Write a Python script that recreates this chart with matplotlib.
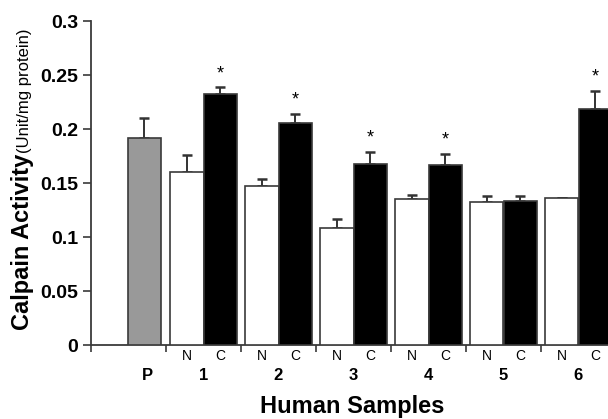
import matplotlib
matplotlib.use("Agg")
import matplotlib.pyplot as plt
from matplotlib.transforms import blended_transform_factory

plt.rcParams['font.family'] = ['Liberation Sans', 'DejaVu Sans']

# ---- data ----
group_labels = ['1', '2', '3', '4', '5', '6']
sub_labels = ['N', 'C']
pool_label = 'P'
pool_value = 0.192
pool_err = 0.0185
n_values = [0.160, 0.147, 0.108, 0.135, 0.132, 0.136]
n_errors = [0.016, 0.007, 0.009, 0.0035, 0.0055, 0.0]
c_values = [0.232, 0.206, 0.168, 0.167, 0.133, 0.2185]
c_errors = [0.0065, 0.008, 0.0108, 0.010, 0.0053, 0.017]
significant = [True, True, True, True, False, True]
y_ticks = [0, 0.05, 0.1, 0.15, 0.2, 0.25, 0.3]
y_tick_labels = ['0', '0.05', '0.1', '0.15', '0.2', '0.25', '0.3']

W, H = 608, 419
fig = plt.figure(figsize=(W / 100, H / 100), dpi=100)
ax = fig.add_axes([91 / W, (H - 345) / H, (W - 91) / W, 324 / H])

edge = '#3a3a3a'
bw = 0.444
off = 0.222
gx = list(range(1, len(group_labels) + 1))
nx = [g - off for g in gx]
cx = [g + off for g in gx]
px = 0.21

ax.bar([px], [pool_value], width=bw, color='#999999', edgecolor=edge, linewidth=1.2, zorder=3)
ax.bar(nx, n_values, width=bw, color='white', edgecolor=edge, linewidth=1.2, zorder=3)
ax.bar(cx, c_values, width=bw, color='black', edgecolor=edge, linewidth=1.2, zorder=3)

ekw = dict(fmt='none', ecolor='#333333', elinewidth=1.4, capsize=3.5, capthick=1.8, zorder=2)
ax.errorbar([px], [pool_value], yerr=[[0], [pool_err]], **ekw)
ax.errorbar(nx, n_values, yerr=[[0] * len(n_errors), n_errors], **ekw)
ax.errorbar(cx, c_values, yerr=[[0] * len(c_errors), c_errors], **ekw)

for x, v, e, s in zip(cx, c_values, c_errors, significant):
    if s:
        ax.annotate('*', xy=(x, v + e), xytext=(0, 10), textcoords='offset points',
                    ha='center', va='center', fontsize=13, color='black')

ax.set_xlim(-0.5, -0.5 + (W - 91) / 75)
ax.set_ylim(0, 0.3)
ax.set_yticks(y_ticks)
ax.set_yticklabels(y_tick_labels, fontsize=14, fontweight='bold')
ax.set_xticks([g - 0.5 for g in [0] + gx])
ax.set_xticklabels([])
ax.tick_params(axis='y', length=6, width=1.2, color=edge, pad=3)
ax.tick_params(axis='x', length=5, width=1.2, color=edge)
for sp in ['top', 'right']:
    ax.spines[sp].set_visible(False)
for sp in ['left', 'bottom']:
    ax.spines[sp].set_color(edge)
    ax.spines[sp].set_linewidth(1.3)

tr = blended_transform_factory(ax.transData, fig.transFigure)
for x in nx:
    ax.text(x, 1 - 355.5 / H, sub_labels[0], transform=tr, ha='center', va='center', fontsize=10, clip_on=False)
for x in cx:
    ax.text(x, 1 - 355.5 / H, sub_labels[1], transform=tr, ha='center', va='center', fontsize=10, clip_on=False)
ax.text(0.25, 1 - 375 / H, pool_label, transform=tr, ha='center', va='center', fontsize=12, fontweight='bold')
for g, lab in zip(gx, group_labels):
    ax.text(g, 1 - 375 / H, lab, transform=tr, ha='center', va='center', fontsize=12, fontweight='bold')

fig.text(352.5 / W, (H - 413) / H, 'Human Samples', ha='center', va='baseline', fontsize=17, fontweight='bold')

t1 = fig.text(29 / W, (H - 330) / H, 'Calpain Activity', rotation=90, rotation_mode='anchor',
              ha='left', va='baseline', fontsize=17, fontweight='bold')
fig.canvas.draw()
bb = t1.get_window_extent()
fig.text(29 / W, (bb.y1 + 1) / (fig.bbox.height), '(Unit/mg protein)', rotation=90, rotation_mode='anchor',
         ha='left', va='baseline', fontsize=12)

fig.savefig('out.png', dpi=100)
